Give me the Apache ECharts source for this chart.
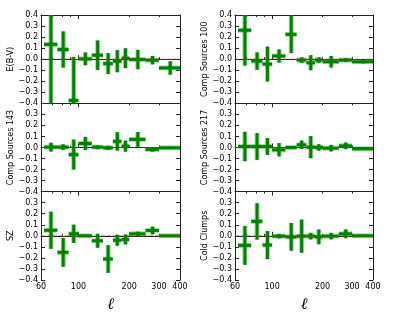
<!DOCTYPE html>
<html><head><meta charset="utf-8">
<script src="https://cdn.jsdelivr.net/npm/echarts@6/dist/echarts.min.js"></script>
<style>html,body{margin:0;padding:0;background:#fff}#c{width:415px;height:312px}</style>
</head><body><div id="c"></div>
<script>
// ---- data ----
const ellLo  = [62.5, 75, 87.5, 100, 120, 140, 160, 180, 200, 250, 300];
const ellHi  = [75, 87.5, 100, 120, 140, 160, 180, 200, 250, 300, 400];
const ellMid = [68.75, 81.25, 93.75, 110, 130, 150, 170, 190, 225, 275, 350];

const ebv      = [0.134, 0.088, -0.374, 0.003, 0.036, -0.040, -0.018, 0.009, -0.003, -0.009, -0.079];
const ebvErr   = [0.600, 0.164, 0.395, 0.058, 0.134, 0.095, 0.100, 0.090, 0.088, 0.038, 0.061];
const cs100    = [0.262, -0.017, -0.044, 0.029, 0.225, -0.008, -0.032, -0.008, -0.023, -0.008, -0.023];
const cs100Err = [0.320, 0.079, 0.158, 0.060, 0.170, 0.025, 0.068, 0.025, 0.053, 0.018, 0.015];
const cs143    = [0.003, 0.003, -0.064, 0.036, 0.003, -0.003, 0.055, 0.012, 0.073, -0.018, -0.003];
const cs143Err = [0.040, 0.026, 0.136, 0.060, 0.018, 0.018, 0.083, 0.050, 0.067, 0.020, 0.010];
const cs217    = [0.009, 0.009, 0.009, -0.021, 0.000, 0.024, 0.003, 0.000, -0.006, 0.015, -0.012];
const cs217Err = [0.133, 0.121, 0.076, 0.060, 0.010, 0.039, 0.100, 0.030, 0.030, 0.030, 0.010];
const sz       = [0.050, -0.150, 0.018, 0.000, -0.045, -0.210, -0.040, -0.033, 0.018, 0.048, 0.000];
const szErr    = [0.168, 0.130, 0.083, 0.010, 0.063, 0.125, 0.050, 0.045, 0.020, 0.035, 0.006];
const cold     = [-0.087, 0.130, -0.084, -0.003, -0.010, -0.003, -0.003, -0.010, -0.003, 0.018, 0.000];
const coldErr  = [0.176, 0.165, 0.127, 0.020, 0.125, 0.150, 0.030, 0.067, 0.030, 0.040, 0.010];

const panelNames = ['E(B-V)', 'Comp Sources 100', 'Comp Sources 143', 'Comp Sources 217', 'SZ', 'Cold Clumps'];
const panelVals  = [ebv, cs100, cs143, cs217, sz, cold];
const panelErrs  = [ebvErr, cs100Err, cs143Err, cs217Err, szErr, coldErr];

const xTickLabels = [60, 100, 200, 300, 400];
const xMajorTicks = [100];
const xMinorTicks = [60, 70, 80, 90, 200, 300, 400];
const X_MIN = 60, X_MAX = 400, Y_MIN = -0.4, Y_MAX = 0.4, Y_STEP = 0.1;

// ---- layout ----
const colLeft = [41, 235], colWidth = [139, 138];
const rowTop = [15, 103.3, 191.6], rowH = 88.4;
const FONT = 'DejaVu Sans';
const SPINE = '#222';
const lg = Math.log10;

const grids = [], xAxes = [], yAxes = [], series = [];
for (let g = 0; g < 6; g++) {
  const row = Math.floor(g / 2), col = g % 2;
  grids.push({left: colLeft[col], top: rowTop[row], width: colWidth[col], height: rowH, outerBoundsMode: 'none', containLabel: false});
  const bottomRow = row === 2;
  const baseX = {type: 'value', gridIndex: g, min: lg(X_MIN), max: lg(X_MAX), splitLine: {show: false}};
  xAxes.push(Object.assign({}, baseX, {
    position: 'bottom',
    axisLine: {show: true, lineStyle: {color: SPINE, width: 1}},
    axisTick: {show: true, inside: true, length: 4, customValues: xMajorTicks.map(lg), lineStyle: {color: SPINE}},
    axisLabel: {show: bottomRow, customValues: xTickLabels.map(lg), margin: 3, color: '#000', fontFamily: FONT, fontSize: 8,
      formatter: v => String(Math.round(Math.pow(10, v)))},
    name: bottomRow ? 'ℓ' : '', nameLocation: 'middle', nameGap: 17,
    nameTextStyle: {fontFamily: 'DejaVu Serif', fontStyle: 'italic', fontSize: 16, color: '#000'}
  }));
  xAxes.push(Object.assign({}, baseX, {
    position: 'bottom', axisLine: {show: false},
    axisTick: {show: true, inside: true, length: 2, customValues: xMinorTicks.map(lg), lineStyle: {color: SPINE}},
    axisLabel: {show: false}
  }));
  xAxes.push(Object.assign({}, baseX, {
    position: 'top',
    axisLine: {show: true, lineStyle: {color: SPINE, width: 1}},
    axisTick: {show: true, inside: true, length: 4, customValues: xMajorTicks.map(lg), lineStyle: {color: SPINE}},
    axisLabel: {show: false}
  }));
  xAxes.push(Object.assign({}, baseX, {
    position: 'top', axisLine: {show: false},
    axisTick: {show: true, inside: true, length: 2, customValues: xMinorTicks.map(lg), lineStyle: {color: SPINE}},
    axisLabel: {show: false}
  }));
  const baseY = {type: 'value', gridIndex: g, min: Y_MIN, max: Y_MAX, interval: Y_STEP, splitLine: {show: false}};
  yAxes.push(Object.assign({}, baseY, {
    position: 'left',
    axisLine: {show: true, lineStyle: {color: SPINE, width: 1}},
    axisTick: {show: true, inside: true, length: 4, lineStyle: {color: SPINE}},
    axisLabel: {show: true, margin: 3, color: '#000', fontFamily: FONT, fontSize: 8,
      formatter: v => {
        if (row > 0 && v > Y_MAX - 0.05) return '';
        if (Math.abs(v) < 1e-9) return '0.0';
        const s = Math.abs(v).toFixed(1);
        return v < 0 ? '\u2212' + s : s;
      }},
    name: panelNames[g], nameLocation: 'middle', nameGap: 25, nameRotate: 90,
    nameTextStyle: {fontFamily: FONT, fontSize: 8, color: '#000'}
  }));
  yAxes.push(Object.assign({}, baseY, {
    position: 'right',
    axisLine: {show: true, lineStyle: {color: SPINE, width: 1}},
    axisTick: {show: true, inside: true, length: 4, lineStyle: {color: SPINE}},
    axisLabel: {show: false}
  }));

  const vals = panelVals[g], errs = panelErrs[g];
  const data = ellMid.map((m, i) => [lg(m), vals[i], lg(ellLo[i]), lg(ellHi[i]), errs[i]]);
  series.push({
    type: 'custom', xAxisIndex: 4 * g, yAxisIndex: 2 * g, data: data, clip: false,
    encode: {x: 0, y: 1},
    renderItem: (params, api) => {
      const x = api.value(0), y = api.value(1), lo = api.value(2), hi = api.value(3), e = api.value(4);
      const yT = Math.min(y + e, Y_MAX), yB = Math.max(y - e, Y_MIN);
      const pL = api.coord([lo, y]), pR = api.coord([hi, y]);
      const pT = api.coord([x, yT]), pB = api.coord([x, yB]);
      const mk = (a, b, w, c) => ({type: 'line', shape: {x1: a[0], y1: a[1], x2: b[0], y2: b[1]},
        style: {stroke: c, lineWidth: w, lineCap: 'butt'}});
      const halo = 'rgba(60,170,60,0.45)', core = '#008000';
      return {type: 'group', children: [
        mk(pL, pR, 5, halo), mk(pT, pB, 5, halo),
        mk(pL, pR, 3, core), mk(pT, pB, 3, core)
      ]};
    }
  });
  series.push({
    type: 'line', xAxisIndex: 4 * g, yAxisIndex: 2 * g, symbol: 'none', silent: true,
    data: [[lg(X_MIN), 0], [lg(X_MAX), 0]],
    lineStyle: {color: 'rgba(255,0,0,0.55)', width: 1, type: [4, 2]}, z: 5
  });
}

const chart = echarts.init(document.getElementById('c'), null, {renderer: 'canvas'});
chart.setOption({
  backgroundColor: '#fff', animation: false,
  grid: grids, xAxis: xAxes, yAxis: yAxes, series: series
});
</script></body></html>
